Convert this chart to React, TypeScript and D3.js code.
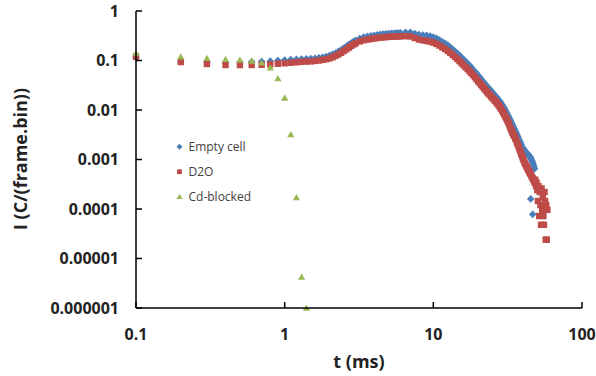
import React from "react";
import * as d3 from "d3";

// time grid (ms) shared by the two long series
const times = [
  0.1, 0.2, 0.3, 0.4, 0.5, 0.6, 0.7, 0.8, 0.9, 1.0,
  1.1, 1.2, 1.3, 1.4, 1.5, 1.6, 1.7, 1.8, 1.9, 2.0,
  2.1, 2.2, 2.3, 2.4, 2.5, 2.6, 2.7, 2.8, 2.9, 3.0,
  3.2, 3.4, 3.6, 3.8, 4.0, 4.2, 4.4, 4.6, 4.8, 5.0,
  5.2, 5.4, 5.6, 5.8, 6.0, 6.5, 7.0, 7.5, 8.0, 8.5,
  9.0, 9.5, 10, 10.5, 11, 11.5, 12, 12.5, 13, 13.5,
  14, 14.5, 15, 15.5, 16, 16.5, 17, 17.5, 18, 18.5,
  19, 19.5, 20, 20.5, 21, 21.5, 22, 22.5, 23, 23.5,
  24, 24.5, 25, 25.5, 26, 26.5, 27, 27.5, 28, 28.5,
  29, 29.5, 30, 30.5, 31, 31.5, 32, 32.5, 33, 33.5,
  34, 34.5, 35, 35.5, 36, 36.5, 37, 37.5, 38, 38.5,
  39, 39.5, 40, 40.5, 41, 41.5, 42, 42.5, 43, 43.5,
  44, 44.5, 45, 45.5, 46, 46.5, 47, 47.5, 48,
];

const emptyCell = [
  0.115, 0.095, 0.092, 0.092, 0.093, 0.094, 0.095, 0.097, 0.1, 0.102,
  0.104, 0.106, 0.107, 0.108, 0.109, 0.111, 0.113, 0.116, 0.12, 0.126,
  0.133, 0.142, 0.153, 0.165, 0.179, 0.194, 0.21, 0.226, 0.241, 0.255,
  0.279, 0.296, 0.307, 0.316, 0.324, 0.331, 0.337, 0.342, 0.346, 0.35,
  0.353, 0.355, 0.357, 0.36, 0.363, 0.37, 0.372, 0.35, 0.335, 0.328,
  0.322, 0.312, 0.298, 0.28, 0.26, 0.24, 0.222, 0.204, 0.186, 0.169,
  0.154, 0.14, 0.127, 0.115, 0.105, 0.096, 0.087, 0.08, 0.073, 0.066,
  0.06, 0.055, 0.05, 0.046, 0.042, 0.038, 0.035, 0.0325, 0.03, 0.028,
  0.026, 0.0243, 0.0226, 0.0211, 0.0197, 0.0184, 0.0172, 0.016, 0.015, 0.0139,
  0.0128, 0.0118, 0.0108, 0.0099, 0.009, 0.0082, 0.0075, 0.0068, 0.0062, 0.0056,
  0.0051, 0.0046, 0.0042, 0.0038, 0.0035, 0.0032, 0.0029, 0.0026, 0.0024, 0.0022,
  0.002, 0.0018, 0.0017, 0.0016, 0.00155, 0.00147, 0.0014, 0.00135, 0.0013, 0.00125,
  0.0012, 0.00115, 0.0011, 0.00102, 0.00095, 0.00088, 0.0008, 0.00072, 0.00065,
];

const d2o = [
  0.119, 0.093, 0.085, 0.081, 0.081, 0.081, 0.082, 0.084, 0.086, 0.088,
  0.09, 0.092, 0.094, 0.095, 0.096, 0.098, 0.1, 0.103, 0.106, 0.11,
  0.116, 0.124, 0.133, 0.143, 0.155, 0.168, 0.182, 0.196, 0.21, 0.222,
  0.243, 0.256, 0.265, 0.272, 0.279, 0.285, 0.29, 0.294, 0.297, 0.3,
  0.302, 0.303, 0.305, 0.306, 0.308, 0.31, 0.306, 0.285, 0.265, 0.255,
  0.248, 0.24, 0.23, 0.216, 0.2, 0.184, 0.17, 0.156, 0.142, 0.129,
  0.118, 0.107, 0.097, 0.088, 0.08, 0.073, 0.067, 0.061, 0.056, 0.051,
  0.046, 0.042, 0.038, 0.035, 0.032, 0.0295, 0.027, 0.025, 0.023, 0.0215,
  0.02, 0.0187, 0.0175, 0.0164, 0.0153, 0.0144, 0.0134, 0.0125, 0.0115, 0.0106,
  0.0097, 0.0089, 0.0081, 0.0074, 0.0067, 0.0061, 0.0055, 0.0049, 0.0043, 0.0039,
  0.0035, 0.0032, 0.003, 0.0027, 0.0025, 0.0022, 0.002, 0.0018, 0.0016, 0.00145,
  0.0013, 0.00118, 0.00105, 0.00096, 0.00088, 0.00082, 0.00076, 0.00071, 0.00066, 0.00062,
  0.00058, 0.00054, 0.00051, 0.00048, 0.00045, 0.00042, 0.0004, 0.00037, 0.00034,
];

// stray low-count points at the end of the runs
const emptyTailTimes = [45.2, 46.6];
const emptyTail = [0.00016, 0.000078];

const d2oTailTimes = [
  48.5, 49, 49.5, 50, 50.5, 51, 51.5, 52, 52.5, 53, 53.5,
  54, 54.5, 55, 55.5, 56, 56.5, 57, 57.5, 58, 58.5,
];
const d2oTail = [
  0.00039, 0.00029, 0.00034, 0.00024, 0.000145, 0.00029, 0.000072, 0.00022, 0.00012, 0.000048, 0.00026,
  0.000096, 0.00017, 0.000072, 0.000048, 0.00022, 0.000145, 0.000024, 0.00012, 0.000024, 0.000096,
];

const cdTimes = [0.1, 0.2, 0.3, 0.4, 0.5, 0.6, 0.7, 0.8, 0.9, 1.0, 1.1, 1.2, 1.3, 1.4];
const cdBlocked = [
  0.14, 0.119, 0.111, 0.106, 0.102, 0.098, 0.09, 0.071, 0.043, 0.0175,
  0.0032, 0.00017, 0.0000042, 0.000001,
];

const xTicks = [0.1, 1, 10, 100];
const xTickLabels = ["0.1", "1", "10", "100"];
const yTicks = [1, 0.1, 0.01, 0.001, 0.0001, 0.00001, 0.000001];
const yTickLabels = ["1", "0.1", "0.01", "0.001", "0.0001", "0.00001", "0.000001"];

const seriesNames = ["Empty cell", "D2O", "Cd-blocked"];
const colors = ["#4A7EBB", "#BE4B48", "#98B954"];

const W = 596;
const H = 376;
const font = "'Open Sans', sans-serif";

const diamond = (r: number) => `M0,${-r}L${r},0L0,${r}L${-r},0Z`;
const square = (r: number) => `M${-r},${-r}H${r}V${r}H${-r}Z`;
const triangle = (r: number) => `M0,${-r}L${r},${r * 0.75}L${-r},${r * 0.75}Z`;

export default function App() {
  const x = d3.scaleLog().domain([0.1, 100]).range([136, 582]);
  const y = d3.scaleLog().domain([0.000001, 1]).range([308, 11]);

  const blue = times.map((t, i) => [t, emptyCell[i]]).concat(emptyTailTimes.map((t, i) => [t, emptyTail[i]]));
  const red = times.map((t, i) => [t, d2o[i]]).concat(d2oTailTimes.map((t, i) => [t, d2oTail[i]]));
  const green = cdTimes.map((t, i) => [t, cdBlocked[i]]);

  const shapes = [diamond(3.8), square(3.2), triangle(3.6)];
  const legendShapes = [diamond(3), square(2.4), triangle(3)];
  const sets = [blue, red, green];

  return (
    <svg
      width={W}
      height={H}
      style={{ position: "absolute", left: 0, top: 0, background: "#fff" }}
      fontFamily={font}
    >
      {sets.map((pts, s) => (
        <g key={s} fill={colors[s]}>
          {pts.map(([t, v], i) => (
            <path key={i} d={shapes[s]} transform={`translate(${x(t)},${y(v)})`} />
          ))}
        </g>
      ))}

      {/* axes */}
      <g stroke="#000" strokeWidth={1.5} fill="none">
        <line x1={136} x2={136} y1={y(1)} y2={y(0.000001)} />
        <line x1={x(0.1)} x2={x(100)} y1={308} y2={308} />
        {yTicks.map((v) => (
          <line key={v} x1={136} x2={142} y1={y(v)} y2={y(v)} />
        ))}
        {xTicks.map((v) => (
          <line key={v} x1={x(v)} x2={x(v)} y1={308} y2={302} />
        ))}
      </g>

      <g fontSize={16} fontWeight={700} fill="#222">
        {yTicks.map((v, i) => (
          <text key={v} x={119} y={y(v)} dy="0.35em" textAnchor="end">
            {yTickLabels[i]}
          </text>
        ))}
        {xTicks.map((v, i) => (
          <text key={v} x={x(v)} y={339.5} textAnchor="middle">
            {xTickLabels[i]}
          </text>
        ))}
      </g>

      <text x={359} y={368} textAnchor="middle" fontSize={18} fontWeight={700} fill="#222">
        t (ms)
      </text>
      <text
        transform="translate(27,159) rotate(-90)"
        textAnchor="middle"
        fontSize={18}
        fontWeight={700}
        fill="#222"
      >
        I (C/(frame.bin))
      </text>

      {/* legend */}
      <g fontSize={12} fill="#404040">
        {seriesNames.map((name, i) => (
          <g key={name} transform={`translate(179.5,${146.7 + i * 25})`}>
            <path d={legendShapes[i]} fill={colors[i]} />
            <text x={9} dy="0.35em">
              {name}
            </text>
          </g>
        ))}
      </g>
    </svg>
  );
}
